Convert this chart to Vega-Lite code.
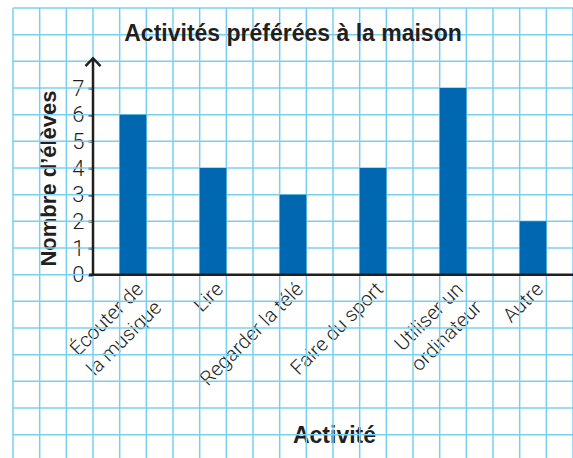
{
  "$schema": "https://vega.github.io/schema/vega-lite/v6.json",
  "width": 560,
  "height": 450,
  "autosize": {"type": "none"},
  "padding": {"left": 13, "top": 8, "right": 0, "bottom": 0},
  "background": "white",
  "config": {"view": {"stroke": null}},
  "title": {
    "text": "Activités préférées à la maison",
    "anchor": "middle",
    "frame": "group",
    "font": "Liberation Sans",
    "fontSize": 23,
    "fontWeight": "bold",
    "color": "#231f20",
    "offset": -57,
    "baseline": "alphabetic"
  },
  "datasets": {
    "gx": [{"gx":0},{"gx":1},{"gx":2},{"gx":3},{"gx":4},{"gx":5},{"gx":6},{"gx":7},{"gx":8},{"gx":9},{"gx":10},{"gx":11},{"gx":12},{"gx":13},{"gx":14},{"gx":15},{"gx":16},{"gx":17},{"gx":18},{"gx":19},{"gx":20},{"gx":21}],
    "gy": [{"gy":-6},{"gy":-5},{"gy":-4},{"gy":-3},{"gy":-2},{"gy":-1},{"gy":0},{"gy":1},{"gy":2},{"gy":3},{"gy":4},{"gy":5},{"gy":6},{"gy":7},{"gy":8},{"gy":9},{"gy":10}],
    "activites": [
      {"activite": "Écouter de\nla musique", "eleves": 6},
      {"activite": "Lire", "eleves": 4},
      {"activite": "Regarder la télé", "eleves": 3},
      {"activite": "Faire du sport", "eleves": 4},
      {"activite": "Utiliser un\nordinateur", "eleves": 7},
      {"activite": "Autre", "eleves": 2}
    ]
  },
  "layer": [
    {
      "layer": [
        {
          "data": {"name": "gx"},
          "mark": {"type": "rule", "color": "#78cff2", "strokeWidth": 1.5},
          "encoding": {
            "x": {"field": "gx", "type": "quantitative", "scale": {"domain": [0, 21], "nice": false, "zero": false}, "axis": null}
          }
        },
        {
          "data": {"name": "gy"},
          "mark": {"type": "rule", "color": "#78cff2", "strokeWidth": 1.5},
          "encoding": {
            "y": {"field": "gy", "type": "quantitative", "scale": {"domain": [-6.875, 10], "nice": false, "zero": false}}
          }
        }
      ]
    },
    {
      "data": {"name": "activites"},
      "mark": {"type": "bar", "color": "#0067b1"},
      "encoding": {
        "x": {
          "field": "activite",
          "type": "nominal",
          "sort": null,
          "scale": {"paddingInner": 0.6667, "paddingOuter": 0.8333, "align": 0.8, "round": false},
          "axis": {
            "orient": "bottom",
            "offset": -183.333,
            "domain": false,
            "ticks": false,
            "grid": false,
            "labelAngle": -45,
            "labelAlign": "right",
            "labelBaseline": "top",
            "labelPadding": 4,
            "labelExpr": "split(datum.label, '\\n')",
            "labelFont": "Roboto",
            "labelFontWeight": 300,
            "labelFontSize": 20,
            "labelLineHeight": 26,
            "labelColor": "#231f20",
            "labelOverlap": false,
            "labelLimit": 400,
            "title": "Activité",
            "titleFont": "Liberation Sans",
            "titleFontSize": 23,
            "titleFontWeight": "bold",
            "titleColor": "#231f20",
            "titleX": 321,
            "titleY": 168,
            "titleAlign": "center",
            "titleBaseline": "alphabetic"
          }
        },
        "y": {
          "field": "eleves",
          "type": "quantitative",
          "scale": {"domain": [-6.875, 10], "nice": false, "zero": false},
          "axis": {
            "orient": "left",
            "values": [0, 1, 2, 3, 4, 5, 6, 7],
            "offset": -80,
            "domain": false,
            "grid": false,
            "ticks": true,
            "labels": true,
            "tickSize": 5,
            "tickWidth": 2,
            "tickColor": "#231f20",
            "labelFont": "Roboto",
            "labelFontWeight": 300,
            "labelFontSize": 22,
            "labelColor": "#231f20",
            "labelPadding": 4,
            "labelFlush": false,
            "labelOverlap": false,
            "title": "Nombre d’élèves",
            "titleFont": "Liberation Sans",
            "titleFontSize": 22,
            "titleFontWeight": "bold",
            "titleColor": "#231f20",
            "titleX": -38,
            "titleY": 170,
            "titleAngle": -90,
            "titleAlign": "center",
            "titleBaseline": "alphabetic"
          }
        }
      }
    },
    {
      "data": {"values": [{}]},
      "layer": [
        {
          "mark": {"type": "rule", "color": "#231f20", "strokeWidth": 2.5},
          "encoding": {
            "x": {"datum": 3, "type": "quantitative", "scale": {"domain": [0, 21], "nice": false, "zero": false}, "axis": null},
            "y": {"datum": 0, "type": "quantitative", "scale": {"domain": [-6.875, 10], "nice": false, "zero": false}},
            "y2": {"datum": 8.1}
          }
        },
        {
          "mark": {"type": "rule", "color": "#231f20", "strokeWidth": 2.5},
          "encoding": {
            "x": {"datum": 2.85, "type": "quantitative"},
            "x2": {"datum": 21},
            "y": {"datum": 0, "type": "quantitative"}
          }
        },
        {
          "mark": {"type": "point", "shape": "M-1,0.55L0,-0.5L1,0.55", "size": 225, "filled": false, "stroke": "#231f20", "strokeWidth": 2.5, "opacity": 1},
          "encoding": {
            "x": {"datum": 3, "type": "quantitative"},
            "y": {"datum": 7.975, "type": "quantitative"}
          }
        }
      ]
    }
  ],
  "resolve": {"scale": {"x": "independent"}}
}
